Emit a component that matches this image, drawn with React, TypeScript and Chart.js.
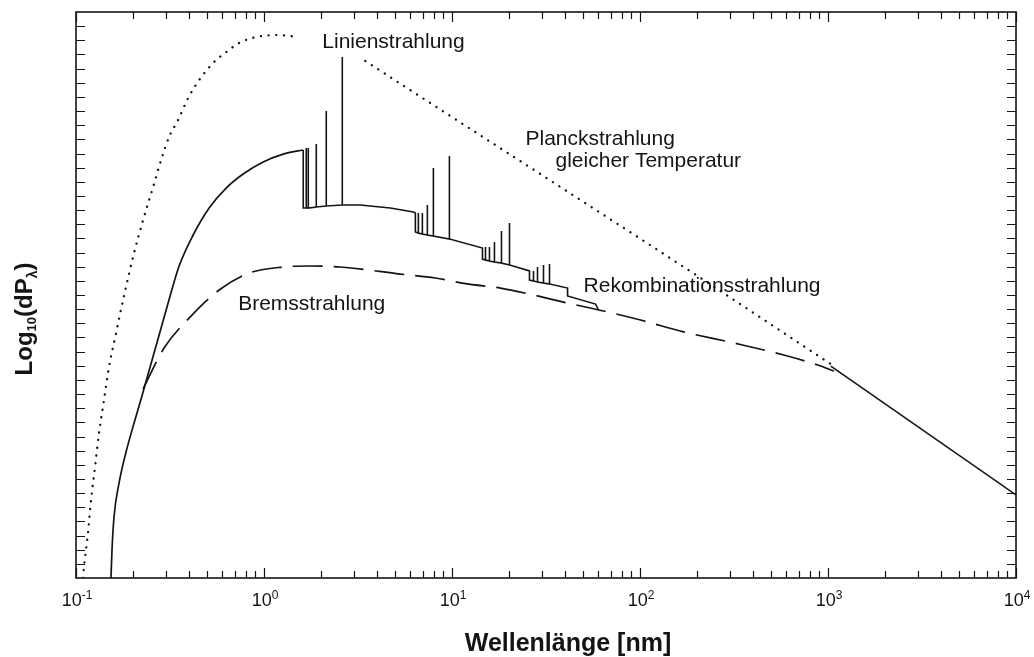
import React, { useEffect, useRef } from "react";
import { Chart, registerables } from "chart.js";

Chart.register(...registerables);

// ---------- data (wavelength in nm, log10(dP) in arbitrary units) ----------
// Planck radiation at equal temperature (dotted); interrupted by the "Linienstrahlung" label
const planckLeftNm = [0.109, 0.1103, 0.1158, 0.1202, 0.1262, 0.1326, 0.1409, 0.1498, 0.1633, 0.178, 0.2036, 0.2274, 0.257, 0.2836, 0.3128, 0.3491, 0.3948, 0.4519, 0.5364, 0.6291, 0.7377, 0.9088, 1.161, 1.539];
const planckLeftLog = [0, 0.78, 3.18, 5.51, 7.84, 10.25, 12.58, 14.91, 17.31, 19.65, 22.97, 25.3, 27.63, 29.54, 31.17, 32.37, 33.92, 35.19, 36.4, 37.17, 37.81, 38.23, 38.37, 38.23];
const planckRightNm = [3.458, 9.806, 37.77, 210.2, 1035];
const planckRightLog = [36.54, 32.65, 27.63, 21.2, 15.12];

// Bremsstrahlung (dashed)
const bremsNm = [0.2274, 0.2941, 0.3996, 0.5772, 0.834, 1.265, 1.74, 2.545, 5.312, 8.157, 12.08, 18.1, 27.13, 41.18, 64.0, 100.7, 170.7, 315.0, 581.9, 882.6, 1074];
const bremsLog = [13.36, 16.25, 18.37, 20.35, 21.55, 21.98, 22.05, 21.98, 21.48, 21.2, 20.78, 20.49, 20.0, 19.43, 18.87, 18.23, 17.39, 16.61, 15.76, 15.05, 14.63];

// Total emission (solid), short-wavelength rise up to the first edge
const riseNm = [0.1535, 0.1554, 0.1593, 0.1694, 0.1846, 0.2036, 0.2274, 0.2539, 0.2836, 0.3166, 0.3536, 0.4198, 0.5107, 0.6291, 0.7748, 0.99, 1.265, 1.617];
const riseLog = [0, 1.98, 4.31, 6.71, 8.9, 10.95, 13.14, 15.41, 17.67, 19.93, 22.05, 24.24, 26.15, 27.56, 28.55, 29.4, 29.96, 30.25];

// Total emission (solid): recombination edges and emission lines
const totalNm = [
  1.617,
  1.617, 1.678, 1.678, 1.678, 1.72, 1.72, 1.72, 1.897, 1.897, 1.897, 2.144, 2.144, 2.144, 2.609, 2.609, 2.609,
  3.252, 4.699, 6.23, 6.385,
  6.385, 6.624, 6.624, 6.624, 6.957, 6.957, 6.957, 7.396, 7.396, 7.396, 7.962, 7.962, 7.962, 9.687, 9.687, 9.687,
  14.52, 14.52, 15.07, 15.07, 15.07, 15.82, 15.82, 15.82, 16.82, 16.82, 16.82, 18.33, 18.33, 18.33, 20.22, 20.22, 20.22,
  25.83, 25.83, 27.13, 27.13, 27.13, 28.5, 28.5, 28.5, 30.67, 30.67, 30.67, 33.01, 33.01, 33.01,
  41.18, 41.18, 58.01, 60.2,
];
const totalLog = [
  30.25,
  26.15, 26.15, 30.39, 26.15, 26.15, 30.39, 26.15, 26.22, 30.67, 26.22, 26.29, 33.0, 26.29, 26.36, 36.82, 26.36,
  26.36, 26.15, 25.87, 25.8,
  24.45, 24.38, 25.8, 24.38, 24.31, 25.8, 24.31, 24.24, 26.36, 24.24, 24.17, 28.98, 24.17, 23.96, 29.82, 23.96,
  23.32, 22.54, 22.47, 23.39, 22.47, 22.4, 23.39, 22.4, 22.33, 23.75, 22.33, 22.26, 24.52, 22.26, 22.12, 25.09, 22.12,
  21.7, 21.06, 20.99, 21.7, 20.99, 20.92, 21.98, 20.92, 20.85, 22.12, 20.85, 20.78, 22.19, 20.78,
  20.49, 19.93, 19.36, 18.94,
];
// Long-wavelength part where the total equals the Planck limit
const tailNm = [1035, 10000];
const tailLog = [14.98, 5.87];

// axes
const xMin = 0.1;
const xMax = 10000;
const yMin = 0;
const yMax = 40;
const decadeExponents = [-1, 0, 1, 2, 3, 4];
const minorMultipliers = [2, 3, 4, 5, 6, 7, 8, 9];
const yTickStep = 1;

// annotations (anchor = left end of baseline, in data units)
const noteTexts = ["Linienstrahlung", "Planckstrahlung", "gleicher Temperatur", "Rekombinationsstrahlung", "Bremsstrahlung"];
const noteNm = [2.042, 24.59, 35.53, 50.08, 0.7289];
const noteLog = [37.46, 30.6, 29.05, 20.21, 18.94];

const xTitle = "Wellenlänge [nm]";

// ---------- styling ----------
const FONT = "'Liberation Sans', Arial, Helvetica, sans-serif";
const INK = "#141414";

type Part = { t: string; s: number; dy: number; w: string };

function drawParts(ctx: CanvasRenderingContext2D, parts: Part[], x: number, y: number, align: "left" | "center") {
  let total = 0;
  const widths = parts.map((p) => {
    ctx.font = `${p.w} ${p.s}px ${FONT}`;
    const w = ctx.measureText(p.t).width;
    total += w;
    return w;
  });
  let cx = align === "center" ? x - total / 2 : x;
  ctx.textAlign = "left";
  ctx.textBaseline = "alphabetic";
  parts.forEach((p, i) => {
    ctx.font = `${p.w} ${p.s}px ${FONT}`;
    ctx.fillText(p.t, cx, y + p.dy);
    cx += widths[i];
  });
}

const decorPlugin = {
  id: "decor",
  afterDatasetsDraw(chart: any) {
    const ctx: CanvasRenderingContext2D = chart.ctx;
    const { left, right, top, bottom } = chart.chartArea;
    const xs = chart.scales.x;
    const ys = chart.scales.y;
    ctx.save();
    ctx.strokeStyle = INK;
    ctx.fillStyle = INK;

    // frame
    ctx.lineWidth = 1.6;
    ctx.strokeRect(left, top, right - left, bottom - top);

    // y ticks (inward, both sides)
    ctx.lineWidth = 1.2;
    ctx.beginPath();
    for (let v = yMin + yTickStep; v < yMax; v += yTickStep) {
      const py = Math.round(ys.getPixelForValue(v)) + 0.5;
      ctx.moveTo(left, py);
      ctx.lineTo(left + 9, py);
      ctx.moveTo(right, py);
      ctx.lineTo(right - 9, py);
    }
    // x ticks (inward, bottom and top)
    decadeExponents.forEach((e) => {
      const base = Math.pow(10, e);
      const px = Math.round(xs.getPixelForValue(base)) + 0.5;
      ctx.moveTo(px, bottom);
      ctx.lineTo(px, bottom - 10);
      ctx.moveTo(px, top);
      ctx.lineTo(px, top + 10);
      if (base * 2 <= xMax) {
        minorMultipliers.forEach((m) => {
          const mx = Math.round(xs.getPixelForValue(base * m)) + 0.5;
          ctx.moveTo(mx, bottom);
          ctx.lineTo(mx, bottom - 7);
          ctx.moveTo(mx, top);
          ctx.lineTo(mx, top + 7);
        });
      }
    });
    ctx.stroke();

    // x tick labels 10^n
    decadeExponents.forEach((e) => {
      const px = xs.getPixelForValue(Math.pow(10, e));
      drawParts(
        ctx,
        [
          { t: "10", s: 18, dy: 0, w: "normal" },
          { t: String(e), s: 12, dy: -7, w: "normal" },
        ],
        px + 1,
        bottom + 28,
        "center"
      );
    });

    // axis titles
    drawParts(ctx, [{ t: xTitle, s: 25, dy: 0, w: "bold" }], (left + right) / 2 + 22, bottom + 73, "center");

    ctx.save();
    ctx.translate(32, (top + bottom) / 2 + 24);
    ctx.rotate(-Math.PI / 2);
    drawParts(
      ctx,
      [
        { t: "Log", s: 24, dy: 0, w: "bold" },
        { t: "10", s: 13, dy: 4, w: "bold" },
        { t: "(dP", s: 24, dy: 0, w: "bold" },
        { t: "λ", s: 14, dy: 5, w: "bold" },
        { t: ")", s: 24, dy: 0, w: "bold" },
      ],
      0,
      0,
      "center"
    );
    ctx.restore();

    // curve annotations
    noteTexts.forEach((t, i) => {
      const px = xs.getPixelForValue(noteNm[i]);
      const py = ys.getPixelForValue(noteLog[i]);
      drawParts(ctx, [{ t, s: 21, dy: 0, w: "normal" }], px, py, "left");
    });

    ctx.restore();
  },
};

function pts(xsArr: number[], ysArr: number[]) {
  return xsArr.map((x, i) => ({ x, y: ysArr[i] }));
}

export default function App() {
  const ref = useRef<HTMLCanvasElement | null>(null);

  useEffect(() => {
    if (!ref.current) return;
    const line = { pointRadius: 0, borderColor: INK, fill: false, tension: 0 };
    const dotted = { ...line, borderWidth: 2.3, borderDash: [0.1, 7.6], borderCapStyle: "round" as const, cubicInterpolationMode: "monotone" as const };
    const chart = new Chart(ref.current, {
      type: "line",
      data: {
        datasets: [
          { label: "Planck links", data: pts(planckLeftNm, planckLeftLog), ...dotted },
          { label: "Planck rechts", data: pts(planckRightNm, planckRightLog), ...dotted },
          { label: "Bremsstrahlung", data: pts(bremsNm, bremsLog), ...line, borderWidth: 1.7, borderDash: [30, 11], cubicInterpolationMode: "monotone" as const },
          { label: "Gesamt (Anstieg)", data: pts(riseNm, riseLog), ...line, borderWidth: 1.7, cubicInterpolationMode: "monotone" as const },
          { label: "Gesamt", data: pts(totalNm, totalLog), ...line, borderWidth: 1.6, borderJoinStyle: "miter" as const },
          { label: "Gesamt (lang)", data: pts(tailNm, tailLog), ...line, borderWidth: 1.6 },
        ],
      },
      options: {
        animation: false,
        responsive: false,
        devicePixelRatio: 1,
        events: [],
        layout: { padding: { top: 12, right: 18, left: 0, bottom: 0 } },
        plugins: { legend: { display: false }, tooltip: { enabled: false }, title: { display: false } },
        scales: {
          x: {
            type: "logarithmic",
            min: xMin,
            max: xMax,
            ticks: { display: false },
            grid: { display: false },
            border: { display: false },
            afterFit: (s: any) => {
              s.height = 79;
            },
          },
          y: {
            type: "linear",
            min: yMin,
            max: yMax,
            ticks: { display: false },
            grid: { display: false },
            border: { display: false },
            afterFit: (s: any) => {
              s.width = 76;
            },
          },
        },
      },
      plugins: [decorPlugin],
    });
    return () => chart.destroy();
  }, []);

  return (
    <div style={{ position: "absolute", left: 0, top: 0, width: 1034, height: 657, background: "#fff" }}>
      <canvas ref={ref} width={1034} height={657} style={{ display: "block" }} />
    </div>
  );
}
